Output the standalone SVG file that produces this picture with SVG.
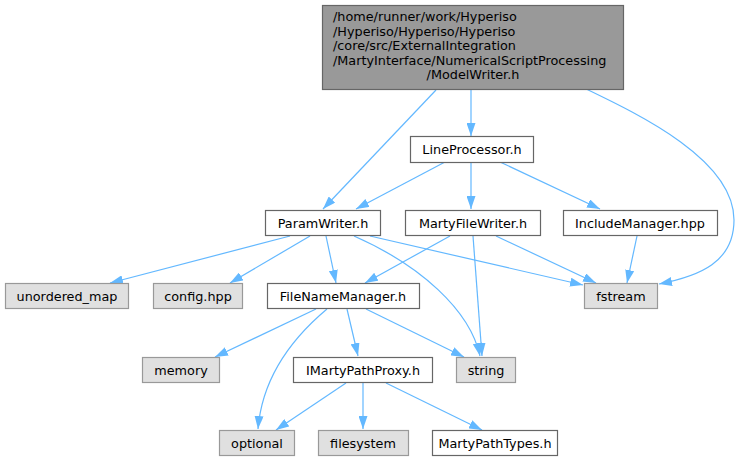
<svg xmlns="http://www.w3.org/2000/svg" width="740" height="461" viewBox="0 0 740 461">
<style>
text{font-family:"DejaVu Sans",sans-serif;font-size:12.8px;fill:#000}
.w rect{fill:#fff;stroke:#666;stroke-width:1.2}
.g rect{fill:#e0e0e0;stroke:#999;stroke-width:1.2}
.r rect{fill:#999;stroke:#666;stroke-width:1.2}
.m{text-anchor:middle}
#edges path{fill:none;stroke:#63b8ff;stroke-width:1.2;marker-end:url(#ah)}
</style>
<defs>
<marker id="ah" markerUnits="userSpaceOnUse" viewBox="0 0 13 9" refX="13" refY="4.5" markerWidth="13" markerHeight="9" orient="auto">
<path d="M0,0L13,4.5L0,9z" fill="#63b8ff"/>
</marker>
</defs>
<rect width="740" height="461" fill="#fff"/>
<g id="edges">
<path d="M436,90L323,209"/>
<path d="M471,90L471,136"/>
<path d="M586,89C640,115 734,160 734,220C734,262 700,276 659,284"/>
<path d="M445,162L356,209"/>
<path d="M471,162L471,209"/>
<path d="M500,162L600,209"/>
<path d="M290,236L110,283"/>
<path d="M310,236L230,283"/>
<path d="M326,236L336,283"/>
<path d="M354,236C420,265 470,310 480,356"/>
<path d="M370,236L583,285"/>
<path d="M450,236L365,283"/>
<path d="M473,236L482,356"/>
<path d="M496,236L596,283"/>
<path d="M637,236L627,283"/>
<path d="M316,309L215,357"/>
<path d="M327,309C290,340 262,380 258,429"/>
<path d="M347,309L358,356"/>
<path d="M366,309L464,357"/>
<path d="M346,383L276,430"/>
<path d="M363,383L363,429"/>
<path d="M386,383L482,430"/>
</g>
<g id="root" class="r">
<rect x="322.5" y="5.5" width="301" height="84"/>
<text x="333" y="21">/home/runner/work/Hyperiso</text>
<text x="333" y="36">/Hyperiso/Hyperiso/Hyperiso</text>
<text x="333" y="50">/core/src/ExternalIntegration</text>
<text x="333" y="65">/MartyInterface/NumericalScriptProcessing</text>
<text x="473" y="79" class="m">/ModelWriter.h</text>
</g>
<g id="LineProcessor" class="w">
<rect x="410.5" y="136.5" width="123" height="26"/>
<text x="472" y="154" class="m">LineProcessor.h</text>
</g>
<g id="ParamWriter" class="w">
<rect x="265.5" y="210.5" width="115" height="25"/>
<text x="323" y="227.5" class="m">ParamWriter.h</text>
</g>
<g id="MartyFileWriter" class="w">
<rect x="405.5" y="210.5" width="135" height="25"/>
<text x="473" y="227.5" class="m">MartyFileWriter.h</text>
</g>
<g id="IncludeManager" class="w">
<rect x="563.5" y="210.5" width="154" height="25"/>
<text x="640" y="227.5" class="m">IncludeManager.hpp</text>
</g>
<g id="unordered_map" class="g">
<rect x="5.5" y="283.5" width="123" height="25"/>
<text x="67" y="300.5" class="m">unordered_map</text>
</g>
<g id="config" class="g">
<rect x="153.5" y="283.5" width="89" height="25"/>
<text x="198" y="300.5" class="m">config.hpp</text>
</g>
<g id="FileNameManager" class="w">
<rect x="267.5" y="283.5" width="152" height="25"/>
<text x="343" y="300.5" class="m">FileNameManager.h</text>
</g>
<g id="fstream" class="g">
<rect x="584.5" y="283.5" width="73" height="25"/>
<text x="621" y="300.5" class="m">fstream</text>
</g>
<g id="memory" class="g">
<rect x="142.5" y="357.5" width="77" height="25"/>
<text x="181" y="374.5" class="m">memory</text>
</g>
<g id="IMartyPathProxy" class="w">
<rect x="293.5" y="357.5" width="139" height="25"/>
<text x="363" y="374.5" class="m">IMartyPathProxy.h</text>
</g>
<g id="string" class="g">
<rect x="456.5" y="357.5" width="59" height="25"/>
<text x="486" y="374.5" class="m">string</text>
</g>
<g id="optional" class="g">
<rect x="219.5" y="430.5" width="75" height="25"/>
<text x="257" y="447.5" class="m">optional</text>
</g>
<g id="filesystem" class="g">
<rect x="318.5" y="430.5" width="90" height="25"/>
<text x="363" y="447.5" class="m">filesystem</text>
</g>
<g id="MartyPathTypes" class="w">
<rect x="432.5" y="430.5" width="125" height="25"/>
<text x="495" y="447.5" class="m">MartyPathTypes.h</text>
</g>
</svg>
